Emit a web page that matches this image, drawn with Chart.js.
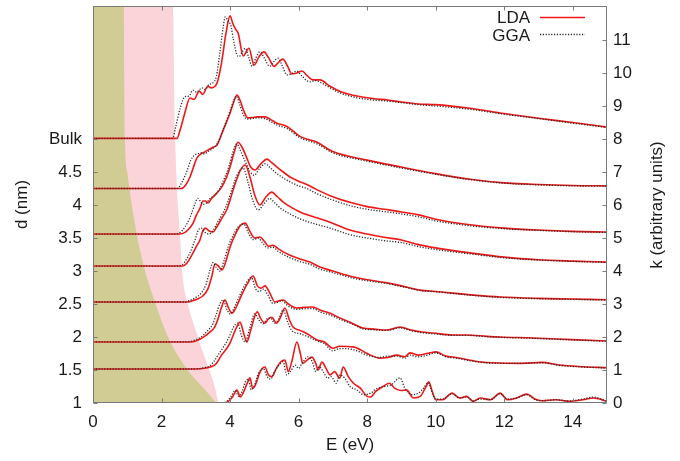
<!DOCTYPE html>
<html><head><meta charset="utf-8">
<script src="https://cdn.jsdelivr.net/npm/chart.js@4.4.1/dist/chart.umd.min.js"></script>
<style>html,body{margin:0;padding:0;background:#fff}canvas{display:block}</style>
</head><body>
<canvas id="c" width="680" height="461"></canvas>
<script>
// ---------- tick labels ----------
const energyTicks = [0, 2, 4, 6, 8, 10, 12, 14];
const kTicks = [0, 1, 2, 3, 4, 5, 6, 7, 8, 9, 10, 11];
const dLabels = ['1', '1.5', '2', '2.5', '3', '3.5', '4', '4.5', 'Bulk'];
const seriesNames = ['LDA', 'GGA'];

// ---------- shaded regions: [E, k] boundary ----------
const olive = [[0,12.03],[0.9,12.03],[0.91,10],[0.93,8],[1.0,7],[1.11,6.15],[1.28,5.1],[1.52,4],[1.81,3.06],[2.19,2],[2.74,1.03],[3.27,0.4],[3.6,0]];
const pink = [[0,12.03],[2.33,12.03],[2.4,8],[2.45,6.5],[2.54,5.1],[2.6,4],[2.77,3.0],[3.03,2.1],[3.12,1.8],[3.36,1.1],[3.55,0.5],[3.66,0]];

// ---------- spectra: [E (eV), k (offset, arbitrary units)] ----------
const LDA_bulk = [[0,8.02],[2.45,8.02],[2.55,8.3],[2.68,8.79],[2.83,9.24],[2.95,9.2],[3.1,9.45],[3.2,9.35],[3.35,9.6],[3.45,9.55],[3.62,9.7],[3.75,10.3],[3.88,11.2],[4.0,11.73],[4.08,11.5],[4.16,11.33],[4.24,11.2],[4.38,10.52],[4.55,10.75],[4.7,10.24],[4.85,10.5],[4.99,10.64],[5.13,10.45],[5.28,10.2],[5.42,10.33],[5.54,10.42],[5.68,10.2],[5.8,9.97],[5.95,10.0],[6.1,10.06],[6.25,9.92],[6.42,9.79],[6.62,9.79],[6.92,9.6],[7.2,9.45],[7.7,9.3],[8.2,9.22],[8.6,9.18],[9,9.12],[9.5,9.06],[10,9.04],[11,8.93],[12,8.77],[13,8.63],[14,8.5],[15,8.36]];
const GGA_bulk = [[0,8.02],[2.32,8.02],[2.42,8.4],[2.55,8.95],[2.68,9.28],[2.8,9.3],[2.92,9.48],[3.02,9.42],[3.18,9.55],[3.28,9.5],[3.38,9.65],[3.5,9.7],[3.6,9.9],[3.7,10.6],[3.8,11.4],[3.86,11.7],[3.95,11.55],[4.02,11.45],[4.1,11.0],[4.2,10.55],[4.27,10.5],[4.36,10.65],[4.44,10.75],[4.55,10.45],[4.64,10.2],[4.75,10.45],[4.87,10.64],[5.0,10.45],[5.16,10.2],[5.28,10.35],[5.4,10.45],[5.53,10.2],[5.66,9.94],[5.8,9.98],[5.95,10.06],[6.1,9.9],[6.33,9.73],[6.5,9.77],[6.7,9.68],[6.92,9.55],[7.2,9.4],[7.7,9.25],[8.2,9.18],[8.6,9.15],[9,9.1],[9.5,9.04],[10,9.0],[11,8.9],[12,8.75],[13,8.62],[14,8.48],[15,8.35]];

const LDA_45 = [[0,6.5],[2.58,6.5],[2.7,6.6],[2.83,6.85],[2.95,7.2],[3.03,7.42],[3.15,7.55],[3.25,7.6],[3.36,7.67],[3.5,7.75],[3.62,7.82],[3.8,8.27],[4.0,8.79],[4.1,9.1],[4.2,9.33],[4.3,9.15],[4.4,8.85],[4.52,8.64],[4.65,8.65],[4.79,8.67],[5.02,8.67],[5.2,8.58],[5.37,8.48],[5.66,8.38],[6.04,8.08],[6.54,7.9],[7,7.62],[8,7.36],[9,7.15],[10,6.95],[11,6.78],[12,6.67],[13,6.62],[14,6.59],[15,6.58]];
const GGA_45 = [[0,6.5],[2.46,6.5],[2.6,6.7],[2.75,7.05],[2.85,7.35],[2.95,7.5],[3.05,7.55],[3.15,7.58],[3.25,7.55],[3.36,7.62],[3.5,7.72],[3.62,7.85],[3.8,8.3],[4.0,8.85],[4.1,9.15],[4.18,9.3],[4.28,9.05],[4.38,8.75],[4.5,8.6],[4.65,8.62],[4.79,8.64],[5.02,8.62],[5.2,8.52],[5.37,8.42],[5.66,8.32],[6.04,8.04],[6.54,7.85],[7,7.58],[8,7.33],[9,7.12],[10,6.93],[11,6.77],[12,6.66],[13,6.61],[14,6.58],[15,6.57]];

const LDA_4 = [[0,5.12],[2.52,5.12],[2.7,5.18],[2.82,5.3],[2.92,5.45],[3.02,5.7],[3.12,5.9],[3.21,6.12],[3.28,6.12],[3.36,6.06],[3.46,6.2],[3.56,6.3],[3.76,6.55],[3.9,6.85],[4.0,7.15],[4.12,7.6],[4.23,7.9],[4.35,7.75],[4.49,7.42],[4.6,7.15],[4.73,7.06],[4.9,7.25],[5.08,7.39],[5.2,7.3],[5.37,7.15],[5.55,7.0],[5.75,6.85],[6.0,6.72],[6.24,6.62],[6.5,6.48],[6.92,6.28],[7.5,6.08],[8,5.95],[8.5,5.87],[9,5.79],[9.5,5.7],[10,5.57],[11,5.4],[12,5.3],[13,5.24],[14,5.2],[15,5.18]];
const GGA_4 = [[0,5.12],[2.43,5.12],[2.6,5.22],[2.75,5.45],[2.88,5.75],[2.98,6.05],[3.06,6.2],[3.14,6.1],[3.22,6.02],[3.3,6.05],[3.42,6.2],[3.52,6.28],[3.7,6.5],[3.85,6.85],[3.96,7.15],[4.08,7.6],[4.2,7.85],[4.3,7.65],[4.45,7.3],[4.58,7.02],[4.7,6.9],[4.87,7.12],[5.02,7.25],[5.2,7.1],[5.37,6.95],[5.55,6.82],[5.75,6.7],[6,6.58],[6.24,6.5],[6.5,6.36],[6.92,6.18],[7.5,5.98],[8,5.87],[8.5,5.8],[9,5.73],[9.5,5.64],[10,5.52],[11,5.37],[12,5.28],[13,5.23],[14,5.19],[15,5.17]];

const LDA_35 = [[0,4.15],[2.6,4.15],[2.75,4.25],[2.92,4.55],[3.02,4.75],[3.12,4.94],[3.2,5.2],[3.28,5.3],[3.38,5.22],[3.5,5.18],[3.62,5.35],[3.76,5.6],[3.9,5.85],[4.0,6.15],[4.15,6.65],[4.3,7.05],[4.44,7.21],[4.58,6.85],[4.72,6.3],[4.87,6.0],[5.05,6.25],[5.22,6.39],[5.38,6.25],[5.55,6.09],[5.8,5.92],[6.04,5.79],[6.5,5.62],[6.92,5.48],[7.5,5.24],[8,5.12],[8.5,5.02],[9,4.94],[9.5,4.8],[10,4.7],[11,4.55],[12,4.42],[13,4.34],[14,4.3],[15,4.27]];
const GGA_35 = [[0,4.15],[2.52,4.15],[2.68,4.28],[2.85,4.6],[2.98,4.95],[3.08,5.25],[3.16,5.3],[3.26,5.18],[3.38,5.12],[3.5,5.22],[3.62,5.45],[3.76,5.7],[3.9,6.0],[4.05,6.45],[4.2,6.9],[4.38,7.12],[4.52,6.7],[4.66,6.15],[4.82,5.85],[5.0,6.05],[5.15,6.2],[5.32,6.05],[5.5,5.88],[5.8,5.7],[6.04,5.58],[6.5,5.42],[6.92,5.3],[7.5,5.1],[8,5.0],[8.5,4.92],[9,4.86],[9.5,4.74],[10,4.65],[11,4.52],[12,4.4],[13,4.33],[14,4.29],[15,4.26]];

const LDA_3 = [[0,3.06],[2.75,3.06],[2.9,3.1],[3.05,3.15],[3.21,3.25],[3.35,3.45],[3.47,3.85],[3.56,4.22],[3.66,4.15],[3.76,4.03],[3.88,4.3],[4.0,4.73],[4.15,5.1],[4.3,5.38],[4.44,5.45],[4.58,5.2],[4.72,5.0],[4.87,5.03],[5.0,4.9],[5.12,4.75],[5.25,4.78],[5.4,4.68],[5.55,4.58],[5.75,4.48],[6.0,4.38],[6.33,4.27],[6.62,4.12],[7.0,4.0],[7.6,3.82],[8.1,3.72],[8.58,3.64],[9.0,3.55],[9.54,3.42],[10,3.38],[10.5,3.33],[11.2,3.26],[11.88,3.21],[13,3.17],[14,3.15],[15,3.13]];
const GGA_3 = [[0,3.06],[2.68,3.06],[2.85,3.12],[3.0,3.2],[3.15,3.32],[3.3,3.6],[3.42,4.05],[3.5,4.25],[3.6,4.1],[3.7,4.0],[3.82,4.3],[3.95,4.75],[4.1,5.1],[4.25,5.35],[4.4,5.42],[4.55,5.12],[4.68,4.95],[4.82,5.0],[4.95,4.85],[5.1,4.7],[5.25,4.72],[5.4,4.6],[5.55,4.5],[5.75,4.4],[6,4.3],[6.33,4.2],[6.62,4.06],[7,3.95],[7.6,3.78],[8.1,3.69],[8.58,3.62],[9,3.53],[9.54,3.41],[10,3.37],[10.5,3.32],[11.2,3.25],[11.88,3.2],[13,3.16],[14,3.14],[15,3.12]];

const LDA_2 = [[0,1.85],[2.85,1.85],[3.0,1.88],[3.2,1.98],[3.41,2.15],[3.55,2.3],[3.65,2.55],[3.75,2.9],[3.85,3.12],[3.95,2.9],[4.05,2.72],[4.2,2.95],[4.35,3.3],[4.5,3.6],[4.67,3.85],[4.8,3.55],[4.9,3.48],[5.02,3.55],[5.15,3.35],[5.31,3.06],[5.43,3.1],[5.55,3.12],[5.7,3.0],[5.95,2.88],[6.2,2.9],[6.42,2.91],[6.62,2.82],[6.92,2.72],[7.2,2.58],[7.5,2.45],[7.88,2.27],[8.2,2.24],[8.58,2.21],[8.96,2.3],[9.25,2.22],[9.6,2.15],[9.92,2.12],[10.5,2.06],[10.9,2.06],[11.5,2.02],[11.88,2.0],[12.84,1.97],[14,1.92],[15,1.88]];
const GGA_2 = [[0,1.85],[2.75,1.85],[2.95,1.9],[3.15,2.0],[3.35,2.2],[3.5,2.4],[3.6,2.7],[3.7,3.0],[3.8,3.12],[3.9,2.85],[4.0,2.7],[4.15,2.95],[4.3,3.3],[4.45,3.6],[4.62,3.8],[4.75,3.45],[4.85,3.38],[4.98,3.45],[5.1,3.28],[5.25,3.02],[5.4,3.06],[5.52,3.1],[5.68,2.95],[5.95,2.84],[6.2,2.86],[6.42,2.86],[6.62,2.76],[6.92,2.66],[7.2,2.54],[7.5,2.42],[7.88,2.25],[8.2,2.22],[8.58,2.2],[8.96,2.28],[9.25,2.2],[9.6,2.13],[9.92,2.1],[10.5,2.05],[10.9,2.05],[11.5,2.01],[11.88,1.99],[12.84,1.96],[14,1.91],[15,1.87]];

const LDA_15 = [[0,1.03],[3.0,1.03],[3.3,1.06],[3.5,1.12],[3.6,1.2],[3.75,1.45],[3.9,1.65],[4.0,1.82],[4.15,2.2],[4.29,2.45],[4.4,2.1],[4.49,1.85],[4.6,2.2],[4.79,2.76],[4.9,2.55],[5.02,2.42],[5.12,2.55],[5.22,2.6],[5.35,2.42],[5.45,2.55],[5.6,2.88],[5.72,2.55],[5.84,2.3],[6.04,2.2],[6.25,2.1],[6.54,1.91],[6.75,1.85],[7.0,1.66],[7.2,1.72],[7.6,1.7],[8.0,1.5],[8.37,1.36],[8.6,1.38],[8.87,1.45],[9.1,1.4],[9.25,1.52],[9.5,1.45],[9.83,1.52],[10.0,1.55],[10.3,1.42],[10.6,1.38],[11.2,1.26],[11.88,1.21],[12.5,1.2],[13.1,1.23],[13.6,1.15],[14.3,1.1],[15,1.07]];
const GGA_15 = [[0,1.03],[2.9,1.03],[3.2,1.06],[3.4,1.12],[3.52,1.25],[3.68,1.5],[3.82,1.72],[3.95,1.95],[4.1,2.3],[4.22,2.42],[4.33,2.05],[4.44,1.85],[4.57,2.25],[4.72,2.7],[4.85,2.5],[4.96,2.4],[5.08,2.55],[5.18,2.58],[5.3,2.42],[5.42,2.55],[5.55,2.82],[5.68,2.45],[5.8,2.2],[6.04,2.1],[6.25,2.02],[6.54,1.88],[6.75,1.8],[7.0,1.58],[7.2,1.65],[7.6,1.62],[8.0,1.45],[8.37,1.38],[8.6,1.42],[8.87,1.42],[9.1,1.36],[9.25,1.45],[9.5,1.4],[9.83,1.47],[10.0,1.52],[10.3,1.4],[10.6,1.36],[11.2,1.25],[11.88,1.2],[12.5,1.2],[13.1,1.22],[13.6,1.14],[14.3,1.09],[15,1.06]];

const LDA_1 = [[0,0],[3.8,0],[3.95,0.05],[4.08,0.2],[4.2,0.39],[4.3,0.18],[4.38,0.3],[4.5,0.6],[4.58,0.76],[4.66,0.45],[4.74,0.55],[4.88,0.95],[5.02,1.09],[5.12,0.85],[5.22,0.8],[5.35,1.05],[5.48,1.25],[5.6,1.3],[5.7,0.95],[5.8,1.25],[5.95,1.85],[6.05,1.5],[6.12,1.2],[6.25,1.3],[6.39,1.39],[6.5,1.2],[6.57,1.0],[6.68,1.24],[6.8,1.05],[6.92,0.85],[7.05,0.95],[7.2,0.75],[7.3,1.09],[7.45,0.8],[7.6,0.6],[7.8,0.45],[8.0,0.2],[8.1,0.18],[8.25,0.35],[8.43,0.48],[8.65,0.6],[8.8,0.45],[9.0,0.38],[9.16,0.39],[9.35,0.15],[9.55,0.2],[9.72,0.5],[9.8,0.64],[9.9,0.35],[10.0,0.1],[10.2,0.1],[10.48,0.3],[10.7,0.15],[10.9,0.2],[11.1,0.05],[11.3,0.15],[11.6,0.1],[11.88,0.3],[12.1,0.1],[12.35,0.15],[12.66,0.27],[12.9,0.12],[13.1,0.07],[13.5,0.1],[13.9,0.05],[14.3,0.1],[14.6,0.15],[15,0.05]];
const GGA_1 = [[0,0],[3.75,0],[3.9,0.05],[4.03,0.2],[4.15,0.38],[4.25,0.2],[4.35,0.35],[4.45,0.65],[4.53,0.72],[4.62,0.4],[4.7,0.5],[4.83,0.9],[4.97,1.05],[5.08,0.8],[5.18,0.72],[5.3,0.95],[5.43,1.15],[5.55,1.25],[5.65,0.85],[5.76,0.95],[5.9,1.15],[6.0,1.05],[6.1,1.2],[6.27,1.4],[6.4,1.25],[6.5,0.95],[6.6,1.1],[6.72,0.95],[6.85,0.75],[6.95,0.8],[7.1,0.6],[7.2,0.85],[7.35,0.75],[7.5,0.5],[7.7,0.4],[7.9,0.25],[8.1,0.3],[8.3,0.45],[8.5,0.5],[8.7,0.55],[8.96,0.76],[9.1,0.45],[9.3,0.25],[9.5,0.3],[9.65,0.45],[9.78,0.62],[9.9,0.3],[10.0,0.12],[10.2,0.12],[10.48,0.28],[10.7,0.15],[10.9,0.18],[11.1,0.06],[11.3,0.12],[11.6,0.1],[11.88,0.28],[12.1,0.12],[12.35,0.15],[12.66,0.25],[12.9,0.1],[13.1,0.07],[13.5,0.1],[13.9,0.06],[14.3,0.12],[14.6,0.18],[15,0.06]];

const LDA_curves = [LDA_bulk, LDA_45, LDA_4, LDA_35, LDA_3, LDA_2, LDA_15, LDA_1];
const GGA_curves = [GGA_bulk, GGA_45, GGA_4, GGA_35, GGA_3, GGA_2, GGA_15, GGA_1];

// ---------- styles ----------
const RED = 'rgb(238,24,24)';
const DOT = '#2a2a2a';
const FONT = "'Liberation Sans', Arial, sans-serif";
const TXT = '#1a1a1a';
const toXY = arr => arr.map(p => ({x: p[0], y: p[1]}));

const datasets = [];
GGA_curves.forEach(c => datasets.push({
  label: seriesNames[1], data: toXY(c), borderColor: DOT, borderWidth: 1.3,
  borderDash: [1.2, 1.6], pointRadius: 0, fill: false, order: 0,
  cubicInterpolationMode: 'monotone'
}));
LDA_curves.forEach(c => datasets.push({
  label: seriesNames[0], data: toXY(c), borderColor: RED, borderWidth: 1.6,
  pointRadius: 0, fill: false, order: 1, cubicInterpolationMode: 'monotone'
}));
datasets.push({label: 'olive', data: toXY(olive), borderWidth: 0, borderColor: 'rgba(0,0,0,0)',
  backgroundColor: 'rgb(208,204,148)', fill: 'origin', pointRadius: 0, order: 2, cubicInterpolationMode: 'monotone'});
datasets.push({label: 'pink', data: toXY(pink), borderWidth: 0, borderColor: 'rgba(0,0,0,0)',
  backgroundColor: 'rgb(250,212,217)', fill: 'origin', pointRadius: 0, order: 3, cubicInterpolationMode: 'monotone'});

const decor = {
  id: 'decor',
  afterDraw(chart) {
    const {ctx, chartArea: a, scales} = chart;
    ctx.save();
    const L = Math.round(a.left) + 0.5, R = Math.round(a.right) - 0.5;
    const T = Math.round(a.top) + 0.5, B = Math.round(a.bottom) - 0.5;
    ctx.strokeStyle = '#7a7a7a'; ctx.lineWidth = 1;
    ctx.beginPath();
    energyTicks.forEach(v => {
      const x = Math.round(scales.x.getPixelForValue(v)) + 0.5;
      ctx.moveTo(x, B); ctx.lineTo(x, B - 4);
      ctx.moveTo(x, T); ctx.lineTo(x, T + 4);
    });
    kTicks.forEach(v => {
      const y = Math.round(scales.y.getPixelForValue(v)) + 0.5;
      ctx.moveTo(R, y); ctx.lineTo(R - 4, y);
    });
    dLabels.forEach((s, i) => {
      const y = Math.round(scales.yL.getPixelForValue(i)) + 0.5;
      ctx.moveTo(L, y); ctx.lineTo(L + 4, y);
    });
    ctx.stroke();
    ctx.strokeRect(L, T, R - L, B - T);
    // legend
    ctx.font = '17px ' + FONT; ctx.fillStyle = TXT;
    ctx.textAlign = 'right'; ctx.textBaseline = 'middle';
    ctx.fillText(seriesNames[0], 530, 18);
    ctx.fillText(seriesNames[1], 530, 36);
    ctx.beginPath(); ctx.strokeStyle = RED; ctx.lineWidth = 1.6;
    ctx.moveTo(540, 17.5); ctx.lineTo(585, 17.5); ctx.stroke();
    ctx.beginPath(); ctx.strokeStyle = DOT; ctx.lineWidth = 1.3; ctx.setLineDash([1.2, 1.6]);
    ctx.moveTo(540, 34.5); ctx.lineTo(585, 34.5); ctx.stroke();
    ctx.setLineDash([]);
    // right axis title (reads bottom-to-top)
    ctx.translate(657, 205); ctx.rotate(-Math.PI / 2);
    ctx.textAlign = 'center'; ctx.textBaseline = 'middle';
    ctx.fillText('k (arbitrary units)', 0, 0);
    ctx.restore();
  }
};

const noPad = s => { s.paddingTop = 0; s.paddingBottom = 0; };

Chart.defaults.font.family = FONT;
new Chart(document.getElementById('c'), {
  type: 'line',
  data: {datasets},
  options: {
    responsive: false, animation: false, devicePixelRatio: 1,
    layout: {padding: {top: 6, left: 0, right: 0, bottom: 0}},
    plugins: {legend: {display: false}, tooltip: {enabled: false}},
    scales: {
      x: {
        type: 'linear', position: 'bottom', min: 0, max: 15,
        afterBuildTicks: s => { s.ticks = energyTicks.map(v => ({value: v})); },
        afterFit: s => { s.height = 58; s.paddingLeft = 0; s.paddingRight = 0; },
        grid: {display: false, drawTicks: false}, border: {display: false},
        ticks: {padding: 9, color: TXT, font: {size: 17}, maxRotation: 0, autoSkip: false, callback: v => String(v)},
        title: {display: true, text: 'E (eV)', color: TXT, font: {size: 17}, padding: {top: 0, bottom: 5}}
      },
      y: {
        type: 'linear', position: 'right', min: 0, max: 12.03,
        afterBuildTicks: s => { s.ticks = kTicks.map(v => ({value: v})); },
        afterFit: s => { s.width = 73; noPad(s); },
        grid: {display: false, drawTicks: false}, border: {display: false},
        ticks: {padding: 6, color: TXT, font: {size: 17}, autoSkip: false, callback: v => String(v)}
      },
      yL: {
        type: 'linear', position: 'left', min: 0, max: 12.03,
        afterBuildTicks: s => { s.ticks = dLabels.map((t, i) => ({value: i})); },
        afterFit: s => { s.width = 93; noPad(s); },
        grid: {display: false, drawTicks: false}, border: {display: false},
        ticks: {padding: 11, color: TXT, font: {size: 17}, autoSkip: false, callback: v => dLabels[v]},
        title: {display: true, text: 'd (nm)', color: TXT, font: {size: 17}, padding: {top: 12, bottom: 0}}
      }
    }
  },
  plugins: [decor]
});
</script>
</body></html>
